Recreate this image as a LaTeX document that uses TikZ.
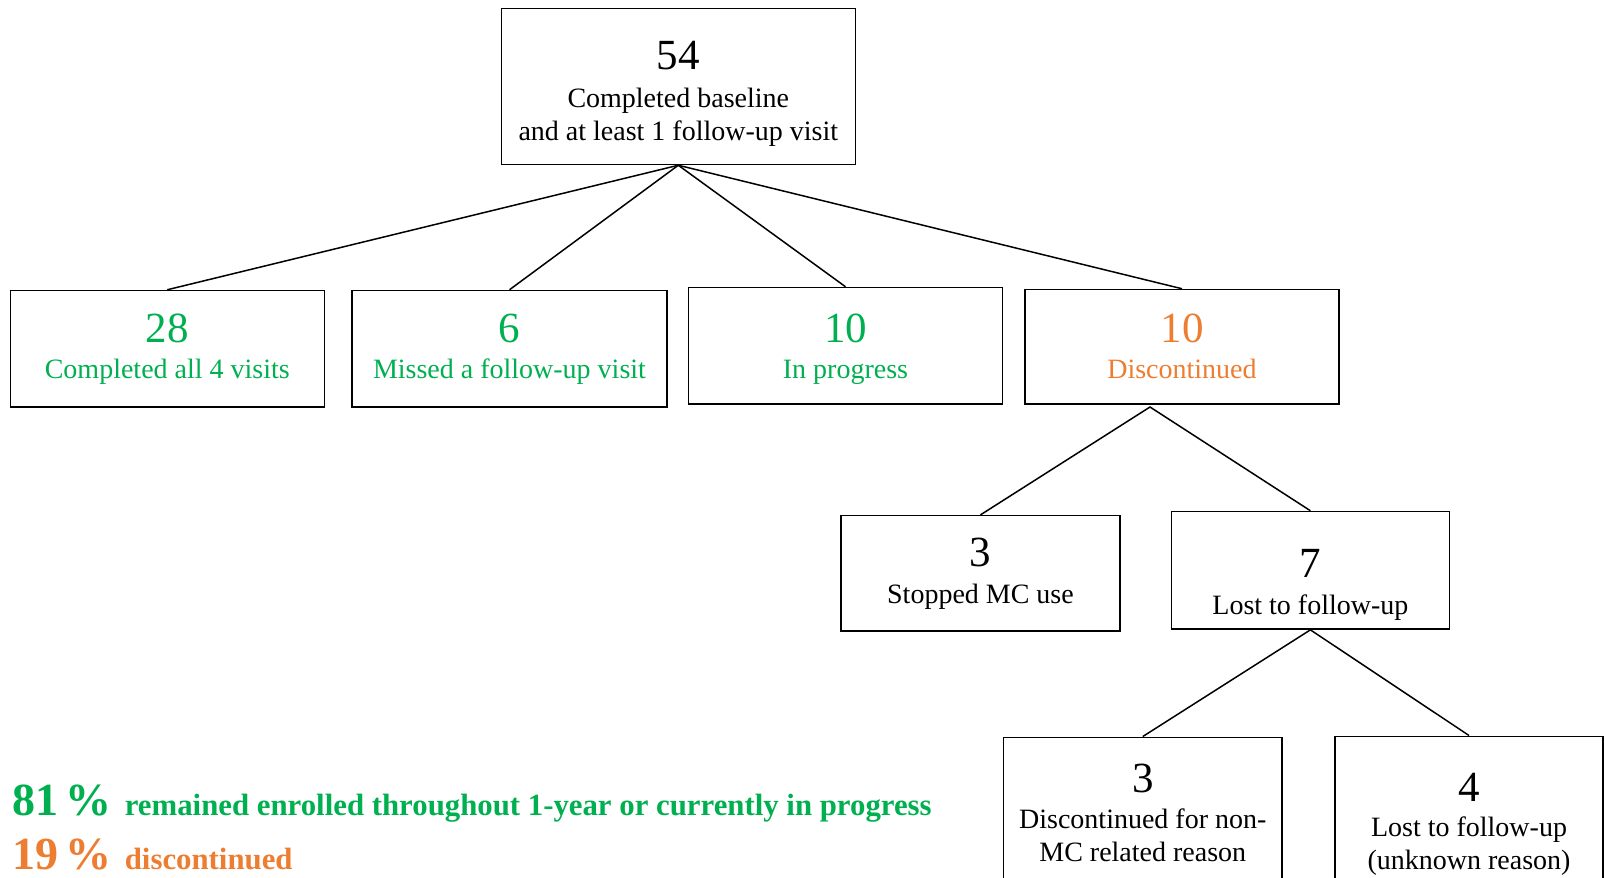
\documentclass[tikz,border=0pt]{standalone}
\usepackage{fontspec}
\setmainfont{Liberation Serif}
\definecolor{mygreen}{HTML}{00B050}
\definecolor{myorange}{HTML}{ED7D31}
\newcommand\bignum[1]{{\fontsize{43}{43}\selectfont #1}}
\begin{document}
\begin{tikzpicture}[x=1pt,y=-1pt,
  box/.style={draw=black, line width=1.5pt, align=center, inner sep=0pt,
    font=\fontsize{28}{33}\selectfont},
  link/.style={line width=1.5pt},
  summary/.style={anchor=base west, inner sep=0pt, font=\bfseries}]
\useasboundingbox (0,0) rectangle (1604,878);
\clip (0,0) rectangle (1604,878);

\node[box, minimum width=354pt, minimum height=156pt] (top) at (678.3,86.5)
  {\bignum{\rule{0pt}{42pt}54}\\[5pt]Completed baseline\\and at least 1 follow-up visit};

\node[box, text=mygreen, minimum width=314pt, minimum height=116.6pt] (c28) at (167.3,348.8)
  {\bignum{28}\\[3pt]Completed all 4 visits};
\node[box, text=mygreen, minimum width=315pt, minimum height=116.6pt] (c6) at (509.5,348.8)
  {\bignum{6}\\[3pt]Missed a follow-up visit};
\node[box, text=mygreen, minimum width=314pt, minimum height=116.6pt] (prog) at (845.5,345.8)
  {\bignum{\rule{0pt}{35pt}10}\\[3pt]In progress};
\node[box, text=myorange, minimum width=314pt, minimum height=114.6pt] (disc) at (1182,346.8)
  {\bignum{10}\\[3pt]Discontinued};

\node[box, minimum width=279pt, minimum height=115.6pt] (stop) at (980.5,573.4)
  {\bignum{3}\\[4pt]Stopped MC use};
\node[box, minimum width=278pt, minimum height=117.6pt] (lost) at (1310.4,570.3)
  {\bignum{\rule{0pt}{58pt}7}\\[4pt]Lost to follow-up};

\node[box, anchor=north, minimum width=278.5pt, minimum height=151pt] (nonmc) at (1142.8,736.5)
  {\bignum{3}\\[3pt]Discontinued for non-\\MC related reason};
\node[box, anchor=north, minimum width=268pt, minimum height=177pt] (unk) at (1469,735.5)
  {\bignum{4}\\[2pt]Lost to follow-up\\(unknown reason)};

\draw[link] (top.south) -- (c28.north);
\draw[link] (top.south) -- (c6.north);
\draw[link] (top.south) -- (prog.north);
\draw[link] (top.south) -- (disc.north);

\coordinate (dapex) at (1150,407);
\draw[link] (stop.north) -- (dapex) -- (lost.north);

\draw[link] (nonmc.north) -- (lost.south) -- (unk.north);

\node[summary, text=mygreen] (s81) at (12,815)
  {{\fontsize{46}{46}\selectfont 81\,\%}\hspace{13pt}{\fontsize{30.8}{31}\selectfont remained enrolled throughout 1-year or currently in progress}};
\node[summary, text=myorange] (s19) at (12,869)
  {{\fontsize{46}{46}\selectfont 19\,\%}\hspace{13pt}{\fontsize{30.8}{31}\selectfont discontinued}};
\end{tikzpicture}
\end{document}
